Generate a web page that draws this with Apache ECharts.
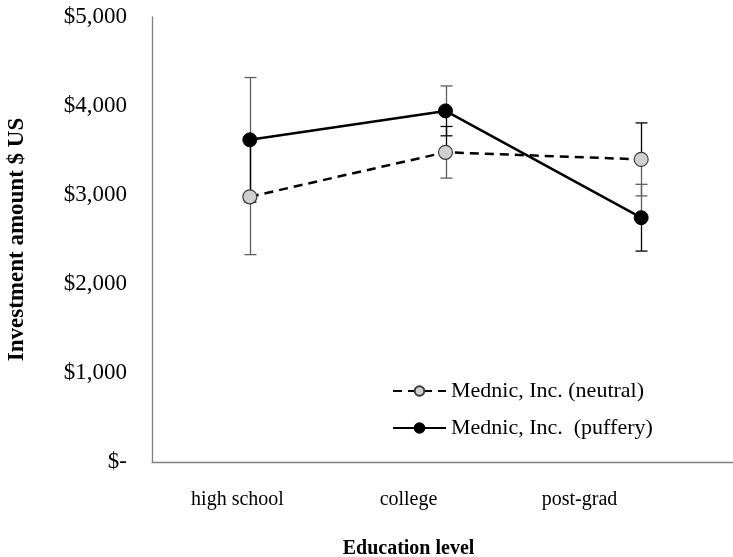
<!DOCTYPE html>
<html>
<head>
<meta charset="utf-8">
<script src="https://cdn.jsdelivr.net/npm/echarts@6/dist/echarts.min.js"></script>
<style>html,body{margin:0;padding:0;background:#fff}#c{width:733px;height:557px}</style>
</head>
<body>
<div id="c"></div>
<script>
const categories = ['high school', 'college', 'post-grad'];
const neutralName = 'Mednic, Inc. (neutral)';
const pufferyName = 'Mednic, Inc.  (puffery)';
const neutralMean = [2980, 3480, 3400];
const neutralErr = [650, 290, 410];
const pufferyMean = [3620, 3945, 2745];
const pufferyErr = [700, 280, 375];
const yTicks = [0, 1000, 2000, 3000, 4000, 5000];

const FONT = "'Liberation Serif', 'Times New Roman', serif";

function errData(mean, err) {
  return mean.map((m, i) => [i, m, m - err[i], m + err[i]]);
}

function errRender(plusColor, minusColor) {
  return function (params, api) {
    const x = api.value(0);
    const c = api.coord([x, api.value(1)]);
    const lo = api.coord([x, api.value(2)]);
    const hi = api.coord([x, api.value(3)]);
    const hw = 6;
    const px = Math.round(c[0]) + 0.5;
    return {
      type: 'group',
      children: [
        { type: 'line', shape: { x1: px, y1: c[1], x2: px, y2: hi[1] }, style: { stroke: plusColor, lineWidth: 1.3 } },
        { type: 'line', shape: { x1: px - hw, y1: hi[1], x2: px + hw, y2: hi[1] }, style: { stroke: plusColor, lineWidth: 1.3 } },
        { type: 'line', shape: { x1: px, y1: c[1], x2: px, y2: lo[1] }, style: { stroke: minusColor, lineWidth: 1.3 } },
        { type: 'line', shape: { x1: px - hw, y1: lo[1], x2: px + hw, y2: lo[1] }, style: { stroke: minusColor, lineWidth: 1.3 } }
      ]
    };
  };
}

const chart = echarts.init(document.getElementById('c'), null, { renderer: 'canvas' });
chart.setOption({
  animation: false,
  backgroundColor: '#fff',
  textStyle: { fontFamily: FONT },
  grid: [
    { left: 152, top: 17, width: 587, height: 445, outerBoundsMode: 'none', containLabel: false },
    { left: 152, top: 17, width: 513, height: 445, outerBoundsMode: 'none', containLabel: false }
  ],
  legend: {
    orient: 'vertical',
    left: 387,
    top: 375,
    itemWidth: 53,
    itemHeight: 12,
    itemGap: 15,
    textStyle: { fontFamily: FONT, fontSize: 22, color: '#000' },
    data: [neutralName, pufferyName]
  },
  xAxis: [
    {
      type: 'category', gridIndex: 0, data: categories, boundaryGap: true,
      axisLine: { lineStyle: { color: '#7f7f7f', width: 1.3 } },
      axisTick: { show: false }, axisLabel: { show: false }, splitLine: { show: false }
    },
    {
      type: 'category', gridIndex: 1, data: categories, boundaryGap: true,
      axisLine: { show: false }, axisTick: { show: false },
      axisLabel: { fontFamily: FONT, fontSize: 20, color: '#000', margin: 28 },
      name: 'Education level', nameLocation: 'middle', nameGap: 77,
      nameTextStyle: { fontFamily: FONT, fontSize: 20, fontWeight: 'bold', color: '#000' }
    }
  ],
  yAxis: [
    {
      type: 'value', gridIndex: 0, min: yTicks[0], max: yTicks[yTicks.length - 1], interval: 1000,
      axisLine: { show: true, lineStyle: { color: '#7f7f7f', width: 1.3 } },
      axisTick: { show: false }, splitLine: { show: false },
      axisLabel: {
        fontFamily: FONT, fontSize: 23, color: '#000', margin: 25,
        formatter: v => v === 0 ? '$-' : '$' + v.toLocaleString('en-US')
      },
      name: 'Investment amount $ US', nameLocation: 'middle', nameGap: 123,
      nameTextStyle: { fontFamily: FONT, fontSize: 23, fontWeight: 'bold', color: '#000' }
    },
    {
      type: 'value', gridIndex: 1, min: 0, max: 5000, show: false
    }
  ],
  series: [
    {
      type: 'custom', name: 'errN', xAxisIndex: 0, yAxisIndex: 0, z: 1,
      renderItem: errRender('#000', '#5f5f5f'), data: errData(neutralMean, neutralErr)
    },
    {
      type: 'custom', name: 'errP', xAxisIndex: 0, yAxisIndex: 0, z: 1,
      renderItem: errRender('#5f5f5f', '#000'), data: errData(pufferyMean, pufferyErr)
    },
    {
      type: 'line', name: neutralName, xAxisIndex: 0, yAxisIndex: 0, z: 3,
      data: neutralMean, symbol: 'circle', symbolSize: 14,
      lineStyle: { color: '#000', width: 2.5, type: [9, 6] },
      itemStyle: { color: '#d0d0d0', borderColor: '#3a3a3a', borderWidth: 1.2 }
    },
    {
      type: 'line', name: pufferyName, xAxisIndex: 0, yAxisIndex: 0, z: 4,
      data: pufferyMean, symbol: 'circle', symbolSize: 14,
      lineStyle: { color: '#000', width: 2.5 },
      itemStyle: { color: '#000', borderColor: '#000', borderWidth: 1 }
    }
  ]
});
</script>
</body>
</html>
